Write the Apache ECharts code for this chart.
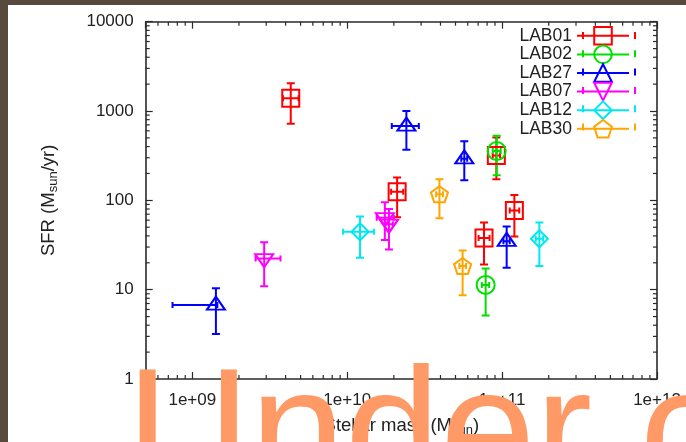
<!DOCTYPE html>
<html><head><meta charset="utf-8">
<script src="https://cdn.jsdelivr.net/npm/echarts@6/dist/echarts.min.js"></script>
<style>
html,body{margin:0;padding:0;background:#574a3c;width:686px;height:442px;overflow:hidden}
#c{position:absolute;left:8px;top:5px;width:678px;height:437px;background:#fff}
</style>
</head><body><div id="c"></div>
<script>
// ---------------- data ----------------
const seriesNames = ['LAB01', 'LAB02', 'LAB27', 'LAB07', 'LAB12', 'LAB30'];
const seriesColors = ['#ff0000', '#00e000', '#0000ff', '#ff00ff', '#00e8f0', '#ffa500'];

// stellar mass (Msun) and SFR (Msun/yr) with error ranges
const lab01Mass   = [4.32e9, 2.10e10, 9.18e10, 7.64e10, 1.20e11];
const lab01MassLo = [3.85e9, 1.92e10, 8.70e10, 7.05e10, 1.12e11];
const lab01MassHi = [4.85e9, 2.30e10, 9.70e10, 8.30e10, 1.29e11];
const lab01Sfr    = [1390, 125, 318, 37.9, 76.9];
const lab01SfrLo  = [720, 64.6, 172, 19.1, 39.5];
const lab01SfrHi  = [2040, 180, 505, 56.6, 114.6];

const lab02Mass   = [9.23e10, 7.83e10];
const lab02MassLo = [8.70e10, 7.40e10];
const lab02MassHi = [9.80e10, 8.25e10];
const lab02Sfr    = [356, 11.3];
const lab02SfrLo  = [191, 5.13];
const lab02SfrHi  = [530, 17.3];

const lab27Mass   = [1.42e9, 2.41e10, 5.70e10, 1.07e11];
const lab27MassLo = [7.45e8, 1.94e10, 5.45e10, 1.02e11];
const lab27MassHi = [1.45e9, 2.90e10, 5.95e10, 1.12e11];
const lab27Sfr    = [6.73, 679, 292, 34.8];
const lab27SfrLo  = [3.2, 368, 168, 17.6];
const lab27SfrHi  = [10.4, 1000, 459, 51];

const lab07Mass   = [2.91e9, 1.75e10, 1.86e10];
const lab07MassLo = [2.56e9, 1.55e10, 1.76e10];
const lab07MassHi = [3.71e9, 2.00e10, 1.97e10];
const lab07Sfr    = [22.3, 64, 54];
const lab07SfrLo  = [10.9, 36, 28.1];
const lab07SfrHi  = [34, 95, 80];

const lab12Mass   = [1.21e10, 1.74e11];
const lab12MassLo = [9.4e9, 1.65e11];
const lab12MassHi = [1.49e10, 1.84e11];
const lab12Sfr    = [44.5, 37.2];
const lab12SfrLo  = [22.7, 18.4];
const lab12SfrHi  = [65.9, 56.6];

const lab30Mass   = [3.94e10, 5.56e10];
const lab30MassLo = [3.75e10, 5.30e10];
const lab30MassHi = [4.15e10, 5.85e10];
const lab30Sfr    = [117, 18.4];
const lab30SfrLo  = [63, 8.68];
const lab30SfrHi  = [172, 27.4];

// axes
const xMin = 5e8, xMax = 1e12, yMin = 1, yMax = 10000;
const xTickValues = [1e9, 1e10, 1e11, 1e12];
const xTickLabels = ['1e+09', '1e+10', '1e+11', '1e+12'];
const yTickValues = [1, 10, 100, 1000, 10000];
const yTickLabels = ['1', '10', '100', '1000', '10000'];
const xMinorTicks = [6e8, 7e8, 8e8, 9e8,
  2e9, 3e9, 4e9, 5e9, 6e9, 7e9, 8e9, 9e9,
  2e10, 3e10, 4e10, 5e10, 6e10, 7e10, 8e10, 9e10,
  2e11, 3e11, 4e11, 5e11, 6e11, 7e11, 8e11, 9e11];
const yMinorTicks = [2, 3, 4, 5, 6, 7, 8, 9,
  20, 30, 40, 50, 60, 70, 80, 90,
  200, 300, 400, 500, 600, 700, 800, 900,
  2000, 3000, 4000, 5000, 6000, 7000, 8000, 9000];
const xAxisTitle = '{a|Stellar mass (M}{s|sun}{a|)}';
const yAxisTitle = '{a|SFR (M}{s|sun}{a|/yr)}';
const watermarkText = 'Under construction';

// ---------------- build ----------------
const groups = [
  [lab01Mass, lab01Sfr, lab01MassLo, lab01MassHi, lab01SfrLo, lab01SfrHi],
  [lab02Mass, lab02Sfr, lab02MassLo, lab02MassHi, lab02SfrLo, lab02SfrHi],
  [lab27Mass, lab27Sfr, lab27MassLo, lab27MassHi, lab27SfrLo, lab27SfrHi],
  [lab07Mass, lab07Sfr, lab07MassLo, lab07MassHi, lab07SfrLo, lab07SfrHi],
  [lab12Mass, lab12Sfr, lab12MassLo, lab12MassHi, lab12SfrLo, lab12SfrHi],
  [lab30Mass, lab30Sfr, lab30MassLo, lab30MassHi, lab30SfrLo, lab30SfrHi]
];
const symbols = ['rect', 'circle', 'triangle',
  'path://M-10,-8 L10,-8 L0,9 Z', 'diamond',
  'path://M0,-10 L9.51,-3.09 L5.88,8.09 L-5.88,8.09 L-9.51,-3.09 Z'];
const symbolSizes = [17, 18, [18, 13], [18, 13], 17, [17, 16]];
const symbolOffsets = [[0, 0], [0, 0], [0, -2], [0, 2], [0, 0], [0, 0]];

const FONT = '"Liberation Sans", Arial, Helvetica, sans-serif';
const AX = '#2a2a2a';

function rows(g) {
  return g[0].map((m, i) => [m, g[1][i], g[2][i], g[3][i], g[4][i], g[5][i]]);
}

function errRender(color) {
  return function (params, api) {
    const m = api.value(0), s = api.value(1);
    const c = api.coord([m, s]);
    const t = api.coord([m, api.value(5)]);
    const b = api.coord([m, api.value(4)]);
    const l = api.coord([api.value(2), s]);
    const r = api.coord([api.value(3), s]);
    const st = { stroke: color, lineWidth: 2 };
    const cw = 4, ch = 3;
    return {
      type: 'group',
      children: [
        { type: 'line', shape: { x1: c[0], y1: t[1], x2: c[0], y2: b[1] }, style: st },
        { type: 'line', shape: { x1: c[0] - cw, y1: t[1], x2: c[0] + cw, y2: t[1] }, style: st },
        { type: 'line', shape: { x1: c[0] - cw, y1: b[1], x2: c[0] + cw, y2: b[1] }, style: st },
        { type: 'line', shape: { x1: l[0], y1: c[1], x2: r[0], y2: c[1] }, style: st },
        { type: 'line', shape: { x1: l[0], y1: c[1] - ch, x2: l[0], y2: c[1] + ch }, style: st },
        { type: 'line', shape: { x1: r[0], y1: c[1] - ch, x2: r[0], y2: c[1] + ch }, style: st }
      ]
    };
  };
}

function fmt(vals, labels) {
  return function (v) {
    const i = vals.findIndex(t => Math.abs(t - v) / t < 1e-6);
    return i < 0 ? '' : labels[i];
  };
}

const series = [];
groups.forEach((g, k) => {
  series.push({
    type: 'custom', name: seriesNames[k] + '_err', data: rows(g),
    encode: { x: 0, y: 1 }, renderItem: errRender(seriesColors[k]),
    silent: true, z: 3, clip: true
  });
});
groups.forEach((g, k) => {
  series.push({
    type: 'line', name: seriesNames[k],
    data: g[0].map((m, i) => [m, g[1][i]]),
    symbol: symbols[k], symbolSize: symbolSizes[k], symbolOffset: symbolOffsets[k],
    showSymbol: true, showAllSymbol: true,
    lineStyle: { color: seriesColors[k], width: 2, opacity: 0 },
    itemStyle: { color: 'rgba(0,0,0,0)', borderColor: seriesColors[k], borderWidth: 2 },
    emphasis: { disabled: true }, silent: true, z: 4, animation: false
  });
});
// minor ticks (all four sides)
series.push({
  type: 'custom', name: 'xminor', silent: true, z: 5,
  data: xMinorTicks.map(v => [v, yMin]), encode: { x: 0, y: 1 },
  renderItem: function (p, api) {
    const b = api.coord([api.value(0), yMin]);
    const t = api.coord([api.value(0), yMax]);
    const st = { stroke: AX, lineWidth: 1.2 };
    return { type: 'group', children: [
      { type: 'line', shape: { x1: b[0], y1: b[1], x2: b[0], y2: b[1] - 4 }, style: st },
      { type: 'line', shape: { x1: t[0], y1: t[1], x2: t[0], y2: t[1] + 4 }, style: st }
    ] };
  }
});
series.push({
  type: 'custom', name: 'yminor', silent: true, z: 5,
  data: yMinorTicks.map(v => [xMin, v]), encode: { x: 0, y: 1 },
  renderItem: function (p, api) {
    const l = api.coord([xMin, api.value(1)]);
    const r = api.coord([xMax, api.value(1)]);
    const st = { stroke: AX, lineWidth: 1.2 };
    return { type: 'group', children: [
      { type: 'line', shape: { x1: l[0], y1: l[1], x2: l[0] + 4, y2: l[1] }, style: st },
      { type: 'line', shape: { x1: r[0], y1: r[1], x2: r[0] - 4, y2: r[1] }, style: st }
    ] };
  }
});

const axisCommon = {
  type: 'log', logBase: 10,
  axisLine: { show: true, lineStyle: { color: AX, width: 1.6 } },
  axisTick: { show: true, inside: true, length: 7, lineStyle: { color: AX, width: 1.2 } },
  splitLine: { show: false }, minorTick: { show: false }
};
const richName = {
  a: { fontSize: 18.5, fontFamily: FONT, color: '#222' },
  s: { fontSize: 13, fontFamily: FONT, color: '#222', padding: [9, 0, 0, 0] }
};

// legend layout (rows ~18.3 px apart)
const legRight = 51, legTop = 16, legItemW = 52, legItemH = 22, legGap = -1.0;
const legRowCenters = [30.5, 48.8, 67.1, 85.4, 103.7, 122];
const graphics = [];
seriesNames.forEach((n, i) => {
  const cy = legRowCenters[i];
  [678 - legRight - legItemW, 678 - legRight].forEach(x => {
    graphics.push({ type: 'line', silent: true, z: 10,
      shape: { x1: x, y1: cy - 3.5, x2: x, y2: cy + 3.5 },
      style: { stroke: seriesColors[i], lineWidth: 2 } });
  });
});
graphics.push({
  type: 'text', left: 118.5, top: 349.5, z: 100, silent: true,
  style: { text: watermarkText, font: '171px "Liberation Sans", Arial, sans-serif', fill: '#ff9966' }
});

const option = {
  animation: false,
  backgroundColor: '#ffffff',
  grid: { left: 137.7, right: 29, top: 16.7, bottom: 59.7 },
  xAxis: [
    Object.assign({}, axisCommon, {
      min: xMin, max: xMax, position: 'bottom',
      axisLabel: { show: true, formatter: fmt(xTickValues, xTickLabels), fontSize: 17, fontFamily: FONT, color: '#222', margin: 13, showMinLabel: false },
      name: xAxisTitle, nameLocation: 'middle', nameGap: 36,
      nameTextStyle: { rich: richName }
    }),
    Object.assign({}, axisCommon, {
      min: xMin, max: xMax, position: 'top', axisLabel: { show: false }
    })
  ],
  yAxis: [
    Object.assign({}, axisCommon, {
      min: yMin, max: yMax, position: 'left',
      axisLabel: { show: true, formatter: fmt(yTickValues, yTickLabels), fontSize: 17, fontFamily: FONT, color: '#222', margin: 12 },
      name: yAxisTitle, nameLocation: 'middle', nameGap: 86,
      nameTextStyle: { rich: richName }
    }),
    Object.assign({}, axisCommon, {
      min: yMin, max: yMax, position: 'right', axisLabel: { show: false }
    })
  ],
  legend: {
    orient: 'vertical', right: legRight, top: legTop, align: 'right',
    itemWidth: legItemW, itemHeight: legItemH, itemGap: legGap,
    selectedMode: false, data: seriesNames,
    textStyle: { fontSize: 17.5, fontFamily: FONT, color: '#222' },
    lineStyle: { width: 2, opacity: 1 },
    itemStyle: { borderWidth: 2 }
  },
  series: series,
  graphic: graphics
};

const chart = echarts.init(document.getElementById('c'), null, { renderer: 'canvas' });
chart.setOption(option);
</script>
</body></html>
